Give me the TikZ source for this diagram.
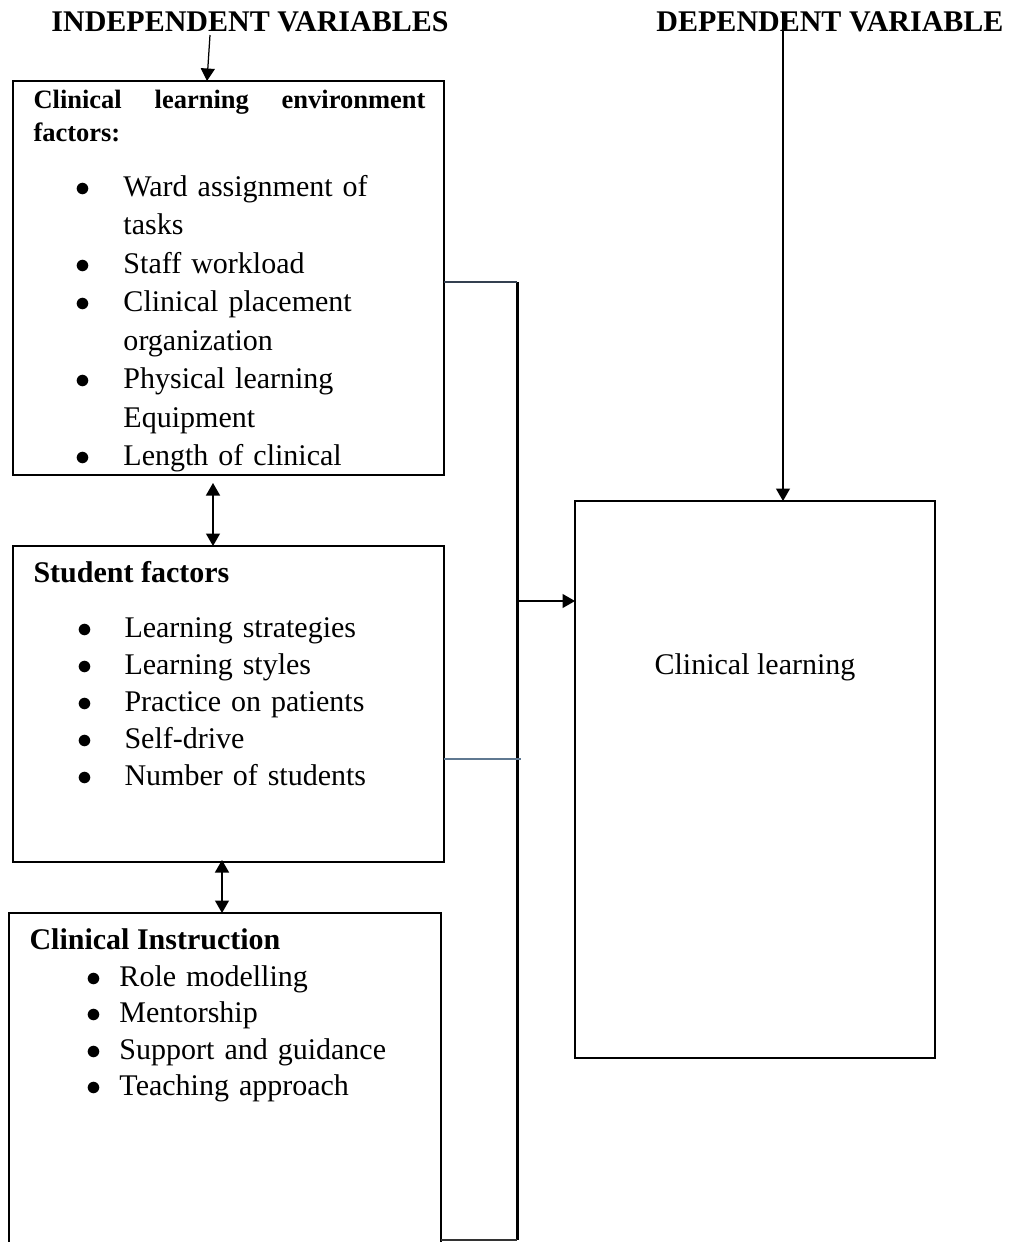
\documentclass[tikz,border=0pt]{standalone}
\usepackage{fontspec}
\setmainfont{Liberation Serif}
\usepackage{tikz}
\usetikzlibrary{arrows.meta}
\usetikzlibrary{positioning}
\usetikzlibrary{calc}
\definecolor{slateline}{RGB}{52,64,80}
\definecolor{paleline}{RGB}{95,120,145}
\newcommand{\bul}[1][13pt]{\leavevmode\llap{$\bullet$\hspace{#1}}\ignorespaces}
\tikzset{
    frame/.style={draw=black, line width=0.8pt, anchor=north west, inner sep=0pt, outer sep=0pt},
    heading/.style={font=\fontsize{12}{13.8}\selectfont\bfseries, inner sep=0pt, anchor=base},
    boxtitle/.style={font=\fontsize{12}{13.8}\selectfont\bfseries, inner sep=0pt, anchor=base west},
    itemlist/.style={text width=130pt, inner sep=0pt, anchor=base west},
    onearrow/.style={draw=black, line width=0.5pt, -{Triangle[length=5pt,width=5.6pt]}},
    twoarrow/.style={draw=black, line width=0.5pt, {Triangle[length=5pt,width=5.6pt]}-{Triangle[length=5pt,width=5.6pt]}},
    busline/.style={draw=black, line width=1.2pt},
    feedline/.style={draw=slateline, line width=0.8pt},
}

\begin{document}
\begin{tikzpicture}[x=0.4pt, y=-0.4pt]
	\path[use as bounding box, clip] (0,0) rectangle (1013,1242);
	\node[heading] (indep) at (250,31) {INDEPENDENT VARIABLES};
	\node[heading] (dep) at (830,31) {DEPENDENT VARIABLE};
	% boxes
	\node[frame, minimum width=172.4pt, minimum height=157.6pt] (envbox) at (13,81) {};
	\node[frame, minimum width=172.4pt, minimum height=126.4pt] (studbox) at (13,546) {};
	\node[frame, minimum width=172.8pt, minimum height=134.8pt] (instbox) at (9,913) {};
	\node[frame, minimum width=144pt, minimum height=222.8pt] (learnbox) at (575,501) {};
	% box texts
	\begin{scope}
		\clip (envbox.north west) rectangle (envbox.south east);
		\node[boxtitle, font=\fontsize{10.6}{13.2}\selectfont\bfseries, text width=156.8pt] (envtitle) at (33,108) {Clinical\hfill learning\hfill environment\\factors:};
		\node[itemlist, font=\fontsize{12}{15.4}\selectfont] (envlist) at (123,196) {\bul Ward assignment of\\tasks\\\bul Staff workload\\\bul Clinical placement\\organization\\\bul Physical learning\\Equipment\\\bul Length of clinical};
	\end{scope}
	\node[boxtitle] (studtitle) at (33,582) {Student factors};
	\node[itemlist, font=\fontsize{12}{14.8}\selectfont] (studlist) at (124,637) {\bul Learning strategies\\\bul Learning styles\\\bul Practice on patients\\\bul Self-drive\\\bul Number of students};
	\node[boxtitle] (insttitle) at (29,949) {Clinical Instruction};
	\node[itemlist, font=\fontsize{12}{14.6}\selectfont] (instlist) at (119,986) {\bul[7.2pt] Role modelling\\\bul[7.2pt] Mentorship\\\bul[7.2pt] Support and guidance\\\bul[7.2pt] Teaching approach};
	\node[font=\fontsize{12}{13.8}\selectfont, inner sep=0pt, anchor=base] (learntext) at (755,674) {Clinical learning};
	% arrows
	\coordinate (indeptail) at (210,35);
	\coordinate (indephead) at (207,81);
	\draw[onearrow] (indeptail) -- (indephead);
	\coordinate (deptail) at (783,12);
	\draw[onearrow] (deptail) -- (deptail |- learnbox.north);
	\coordinate (updown1) at (213,483);
	\draw[twoarrow] (updown1) -- (updown1 |- studbox.north);
	\coordinate (updown2) at (222,860);
	\draw[twoarrow] (updown2) -- (updown2 |- instbox.north);
	% collecting line
	\coordinate (bustop) at (517,282);
	\coordinate (busmid) at (521,759);
	\coordinate (busout) at (517,601);
	\coordinate (busbot) at (517,1240);
	\draw[busline] (bustop) -- (busbot);
	\draw[feedline] (envbox.east |- bustop) -- (bustop);
	\draw[feedline, draw=paleline, line width=0.5pt] (studbox.east |- busmid) -- (busmid);
	\draw[draw=black!80, line width=0.5pt] (instbox.east |- busbot) -- (busbot);
	\draw[onearrow] (busout) -- (learnbox.west |- busout);
\end{tikzpicture}
\end{document}
